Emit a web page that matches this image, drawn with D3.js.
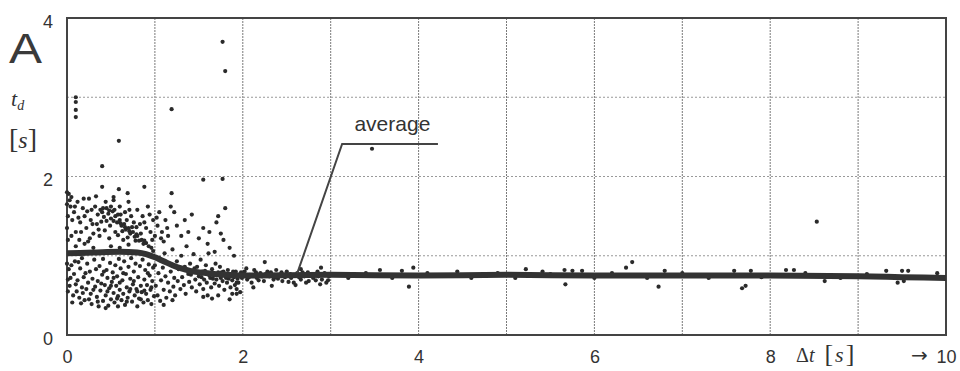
<!DOCTYPE html>
<html>
<head>
<meta charset="utf-8">
<script src="https://cdn.jsdelivr.net/npm/d3@7"></script>
<style>
  body { margin: 0; background: #fff; }
  svg { display: block; }
  .tick text { font-family: "Liberation Sans", Arial, sans-serif; font-size: 18px; fill: #333; }
</style>
</head>
<body>
<div id="chart"></div>
<script>
// x ticks / y ticks as printed
const xTicks = [0, 2, 4, 6, 8, 10];
const yTicks = [0, 2, 4];
const gridX = [1, 2, 3, 4, 5, 6, 7, 8, 9];
const gridY = [1, 2, 3];

// the fitted average curve [dt, td]
const averageLine = [
  [0, 1.03], [0.3, 1.04], [0.6, 1.05], [0.8, 1.04], [0.9, 1.02], [1.0, 0.98],
  [1.1, 0.93], [1.2, 0.88], [1.3, 0.84], [1.4, 0.81], [1.6, 0.78], [1.8, 0.76],
  [2.0, 0.75], [3, 0.76], [4, 0.75], [5, 0.76], [6, 0.75], [7, 0.75],
  [8, 0.75], [9, 0.74], [9.5, 0.73], [10, 0.72]
];

// measured points [dt, td]
const outliers = [
  [0.1, 3.0], [0.1, 2.94], [0.1, 2.84], [0.1, 2.75], [0.59, 2.45], [0.4, 2.13],
  [1.19, 2.85], [1.77, 3.7], [1.8, 3.33], [3.47, 2.35], [8.53, 1.43],
  [0.4, 1.87], [0.59, 1.84], [0.69, 1.79], [0.88, 1.87], [1.19, 1.79],
  [1.55, 1.96], [1.77, 1.97], [0.53, 1.74]
];
const bandPoints = [
  [0.35, 1.52], [0.38, 1.58], [0.4, 1.55], [0.42, 1.49], [0.45, 1.6], [0.47, 1.53],
  [0.5, 1.47], [0.52, 1.56], [0.55, 1.5], [0.57, 1.42], [0.6, 1.45], [0.62, 1.38],
  [0.65, 1.4], [0.67, 1.33], [0.7, 1.35], [0.72, 1.28], [0.75, 1.3], [0.77, 1.24],
  [0.8, 1.25], [0.82, 1.19], [0.85, 1.2], [0.87, 1.15], [0.9, 1.16], [0.93, 1.12],
  [0.96, 1.1], [0.98, 1.06], [0.45, 1.44], [0.5, 1.62], [0.58, 1.52], [0.63, 1.31],
  [0.68, 1.45], [0.74, 1.36], [0.78, 1.19], [0.84, 1.28], [0.41, 1.6], [0.48, 1.57],
  [0.53, 1.44], [0.61, 1.41], [0.66, 1.36], [0.71, 1.31], [0.79, 1.27], [0.88, 1.19]
];
const upperPoints = [
  [0.02, 1.78], [0.03, 1.7], [0.04, 1.62], [0.05, 1.74], [0.08, 1.55], [0.12, 1.68],
  [0.15, 1.42], [0.18, 1.6], [0.2, 1.5], [0.22, 1.35], [0.25, 1.72], [0.27, 1.45],
  [0.3, 1.28], [0.32, 1.62], [0.34, 1.4], [0.37, 1.25], [0.43, 1.32], [0.48, 1.22],
  [0.53, 1.7], [0.55, 1.3], [0.6, 1.62], [0.64, 1.2], [0.66, 1.55], [0.7, 1.68],
  [0.73, 1.5], [0.76, 1.42], [0.8, 1.58], [0.83, 1.4], [0.86, 1.5], [0.9, 1.35],
  [0.92, 1.62], [0.95, 1.3], [0.98, 1.45], [1.0, 1.25], [1.03, 1.38], [1.05, 1.55],
  [1.08, 1.3], [1.1, 1.18], [1.12, 1.45], [1.15, 1.25], [1.18, 1.62], [0.1, 1.3],
  [0.14, 1.2], [0.06, 1.45], [0.24, 1.18], [0.28, 1.58],
  [0.1, 1.12], [0.2, 1.15], [0.3, 1.1], [0.5, 1.12], [0.6, 1.1], [0.7, 1.14],
  [0.05, 1.25], [0.09, 1.62], [0.13, 1.48], [0.16, 1.3], [0.19, 1.72], [0.23, 1.56],
  [0.26, 1.22], [0.29, 1.4], [0.33, 1.75], [0.36, 1.33], [0.39, 1.43], [0.44, 1.68],
  [0.49, 1.38], [0.54, 1.58], [0.58, 1.26], [0.61, 1.52], [0.69, 1.23], [0.71, 1.58],
  [0.79, 1.36], [0.88, 1.42], [0.94, 1.52], [0.97, 1.2], [1.02, 1.48], [1.07, 1.22],
  [1.14, 1.35],
  [0.0, 1.8], [0.0, 1.65], [0.01, 1.5], [0.0, 1.35], [0.01, 1.2], [0.0, 0.9], [0.01, 0.7]
];
const lowerPoints = [
  [0.03, 0.62], [0.05, 0.88], [0.06, 0.41], [0.08, 0.77], [0.09, 0.93], [0.11, 0.55],
  [0.12, 0.69], [0.14, 0.47], [0.15, 0.84], [0.17, 0.6], [0.17, 0.97], [0.19, 0.73],
  [0.2, 0.44], [0.22, 0.58], [0.23, 0.9], [0.24, 0.66], [0.26, 0.8], [0.27, 0.52],
  [0.28, 0.39], [0.29, 0.71], [0.31, 0.95], [0.32, 0.61], [0.33, 0.83], [0.34, 0.48],
  [0.35, 0.68], [0.36, 0.36], [0.37, 0.87], [0.38, 0.56], [0.4, 0.76], [0.41, 0.43],
  [0.41, 0.96], [0.43, 0.63], [0.44, 0.5], [0.45, 0.82], [0.46, 0.72], [0.47, 0.37],
  [0.48, 0.59], [0.49, 0.91], [0.5, 0.45], [0.51, 0.67], [0.52, 0.79], [0.53, 0.53],
  [0.54, 0.41], [0.55, 0.88], [0.56, 0.62], [0.57, 0.74], [0.58, 0.49], [0.59, 0.96],
  [0.6, 0.57], [0.61, 0.84], [0.62, 0.44], [0.63, 0.69], [0.64, 0.52], [0.65, 0.93],
  [0.66, 0.38], [0.67, 0.77], [0.68, 0.6], [0.69, 0.47], [0.7, 0.86], [0.71, 0.55],
  [0.72, 0.71], [0.73, 0.97], [0.74, 0.42], [0.75, 0.64], [0.76, 0.8], [0.77, 0.5],
  [0.78, 0.9], [0.79, 0.58], [0.8, 0.36], [0.81, 0.73], [0.82, 0.46], [0.83, 0.87],
  [0.84, 0.62], [0.85, 0.54], [0.86, 0.95], [0.87, 0.41], [0.88, 0.7], [0.89, 0.82],
  [0.9, 0.52], [0.91, 0.63], [0.92, 0.44], [0.93, 0.89], [0.94, 0.75], [0.95, 0.57],
  [0.96, 0.39], [0.97, 0.68], [0.98, 0.85], [0.99, 0.49],
  [0.04, 0.72], [0.07, 0.5], [0.1, 0.64], [0.13, 0.92], [0.16, 0.4], [0.18, 0.53],
  [0.21, 0.78], [0.25, 0.45], [0.3, 0.57], [0.35, 0.42], [0.39, 0.65], [0.42, 0.8],
  [0.46, 0.55], [0.5, 0.62], [0.53, 0.72], [0.57, 0.46], [0.6, 0.66], [0.64, 0.78],
  [0.68, 0.42], [0.72, 0.58], [0.76, 0.68], [0.8, 0.55], [0.84, 0.45], [0.88, 0.56],
  [0.92, 0.78], [0.96, 0.6], [0.02, 0.83], [0.01, 0.55], [0.44, 0.34], [0.58, 0.36]
];
const midPoints = [
  [1.0, 0.88], [1.01, 0.62], [1.03, 0.5], [1.04, 0.78], [1.05, 0.97], [1.06, 0.43],
  [1.07, 0.69], [1.09, 0.85], [1.1, 0.57], [1.11, 1.03], [1.12, 0.74], [1.13, 0.47],
  [1.15, 0.66], [1.16, 0.9], [1.17, 0.55], [1.18, 0.8], [1.2, 1.08], [1.21, 0.61],
  [1.22, 0.72], [1.23, 0.5], [1.25, 0.93], [1.26, 0.68], [1.27, 0.83], [1.29, 0.58],
  [1.3, 1.0], [1.31, 0.73], [1.33, 0.63], [1.34, 0.86], [1.35, 0.52], [1.36, 1.12],
  [1.38, 0.77], [1.39, 0.67], [1.4, 0.9], [1.42, 0.6], [1.43, 0.81], [1.44, 1.02],
  [1.46, 0.7], [1.47, 0.55], [1.48, 0.86], [1.5, 0.74], [1.51, 0.64], [1.52, 0.95],
  [1.54, 0.8], [1.55, 0.58], [1.56, 0.7], [1.58, 0.88], [1.59, 0.66], [1.6, 0.78],
  [1.61, 1.03], [1.63, 0.72], [1.64, 0.6], [1.65, 0.83], [1.67, 0.75], [1.68, 0.65],
  [1.69, 0.9], [1.7, 0.7], [1.72, 0.79], [1.73, 0.62], [1.74, 0.86], [1.75, 0.72],
  [1.77, 0.68], [1.78, 0.8], [1.79, 0.57], [1.8, 0.74], [1.82, 0.66], [1.83, 0.82],
  [1.84, 0.71], [1.86, 0.6], [1.87, 0.77], [1.88, 0.69], [1.9, 0.73], [1.91, 0.63],
  [1.92, 0.8], [1.93, 0.58], [1.93, 0.52], [1.93, 0.66], [1.95, 0.66], [1.96, 0.76],
  [1.97, 0.54], [1.99, 0.72],
  [1.41, 0.76], [1.45, 0.84], [1.49, 0.79], [1.53, 0.73], [1.57, 0.81], [1.62, 0.75],
  [1.66, 0.71], [1.71, 0.76], [1.76, 0.79], [1.81, 0.72], [1.85, 0.75], [1.89, 0.8],
  [1.94, 0.71], [1.98, 0.79],
  [1.22, 1.55], [1.25, 1.38], [1.3, 1.25], [1.34, 1.45], [1.38, 1.3], [1.42, 1.52],
  [1.5, 1.22], [1.55, 1.35], [1.6, 1.15], [1.7, 1.42], [1.72, 1.5], [1.75, 1.28],
  [1.78, 1.2], [1.8, 1.6], [1.62, 1.3], [1.85, 1.1], [1.68, 1.05], [1.9, 1.0],
  [1.55, 0.48], [1.6, 0.5], [1.65, 0.46], [1.72, 0.5], [1.85, 0.45], [1.88, 0.52],
  [1.1, 0.38], [1.2, 0.44]
];
const tailPoints = [
  [2.02, 0.8], [2.05, 0.7], [2.08, 0.76], [2.1, 0.66], [2.13, 0.82], [2.16, 0.72],
  [2.2, 0.78], [2.24, 0.68], [2.28, 0.8], [2.3, 0.74], [2.35, 0.7], [2.38, 0.82],
  [2.42, 0.76], [2.45, 0.68], [2.5, 0.8], [2.55, 0.72], [2.58, 0.66], [2.62, 0.78],
  [2.66, 0.7], [2.7, 0.74], [2.75, 0.68], [2.8, 0.72], [2.85, 0.8], [2.9, 0.7],
  [2.95, 0.66], [2.98, 0.74], [2.12, 0.6], [2.33, 0.62], [2.6, 0.63], [2.88, 0.64],
  [2.04, 0.84], [2.18, 0.69], [2.26, 0.77], [2.4, 0.71], [2.48, 0.73], [2.52, 0.67],
  [2.68, 0.79], [2.72, 0.66], [2.78, 0.77], [2.83, 0.69], [2.93, 0.78], [2.97, 0.69],
  [2.07, 0.73], [2.15, 0.79], [2.22, 0.74], [2.32, 0.79], [2.37, 0.73], [2.44, 0.79],
  [2.54, 0.77], [2.64, 0.73], [2.74, 0.79], [2.86, 0.74],
  [2.25, 0.92], [3.89, 0.61], [5.67, 0.64], [2.66, 0.83], [2.89, 0.85], [3.56, 0.82],
  [3.81, 0.81], [3.94, 0.85], [4.44, 0.8], [5.22, 0.83], [5.41, 0.8], [5.66, 0.82],
  [5.75, 0.81], [5.86, 0.81], [6.36, 0.85], [6.43, 0.92], [6.73, 0.61], [6.8, 0.81],
  [7.59, 0.81], [7.68, 0.59], [7.72, 0.62], [7.78, 0.81], [8.18, 0.82], [8.27, 0.82],
  [8.62, 0.68], [9.32, 0.81], [9.45, 0.66], [9.5, 0.81], [9.57, 0.81], [9.52, 0.68],
  [3.2, 0.72], [3.4, 0.78], [3.7, 0.72], [4.1, 0.78], [4.6, 0.72], [4.9, 0.78],
  [5.1, 0.72], [5.5, 0.77], [6.0, 0.72], [6.2, 0.78], [6.6, 0.72], [7.0, 0.78],
  [7.3, 0.72], [7.9, 0.73], [8.4, 0.78], [8.8, 0.72], [9.1, 0.77], [9.7, 0.72], [9.9, 0.78]
];

const width = 960, height = 371;
const margin = { top: 18, right: 14, bottom: 36, left: 67 };

const svg = d3.select('#chart').append('svg')
  .attr('width', width)
  .attr('height', height);

const x = d3.scaleLinear().domain([0, 10]).range([margin.left, width - margin.right]);
const y = d3.scaleLinear().domain([0, 4]).range([height - margin.bottom, margin.top]);

const ink = '#333';

// grid
svg.append('g')
  .selectAll('line')
  .data(gridX)
  .join('line')
  .attr('x1', d => x(d)).attr('x2', d => x(d))
  .attr('y1', y(0)).attr('y2', y(4))
  .attr('stroke', '#7a7a7a')
  .attr('stroke-width', 1)
  .attr('stroke-dasharray', '2,1');

svg.append('g')
  .selectAll('line')
  .data(gridY)
  .join('line')
  .attr('x1', x(0)).attr('x2', x(10))
  .attr('y1', d => y(d)).attr('y2', d => y(d))
  .attr('stroke', '#999')
  .attr('stroke-width', 1)
  .attr('stroke-dasharray', '2,2');

// frame
svg.append('rect')
  .attr('x', x(0)).attr('y', y(4))
  .attr('width', x(10) - x(0)).attr('height', y(0) - y(4))
  .attr('fill', 'none')
  .attr('stroke', '#444')
  .attr('stroke-width', 2);

// scatter
const allPoints = [].concat(outliers, bandPoints, upperPoints, lowerPoints, midPoints, tailPoints);
svg.append('g')
  .attr('fill', '#2a2a2a')
  .selectAll('circle')
  .data(allPoints)
  .join('circle')
  .attr('cx', d => x(d[0]))
  .attr('cy', d => y(d[1]))
  .attr('r', 2.1);

// average curve
const line = d3.line()
  .x(d => x(d[0]))
  .y(d => y(d[1]))
  .curve(d3.curveMonotoneX);

svg.append('path')
  .datum(averageLine)
  .attr('d', line)
  .attr('fill', 'none')
  .attr('stroke', '#333')
  .attr('stroke-width', 6);

// annotation "average"
const leader = [[2.62, 0.78], [3.13, 2.41], [4.22, 2.41]];
svg.append('path')
  .datum(leader)
  .attr('d', d3.line().x(d => x(d[0])).y(d => y(d[1])))
  .attr('fill', 'none')
  .attr('stroke', '#444')
  .attr('stroke-width', 2);

svg.append('text')
  .attr('x', x(3.27)).attr('y', y(2.58))
  .attr('font-family', '"Liberation Sans", Arial, sans-serif')
  .attr('font-size', 21)
  .attr('fill', ink)
  .text('average');

// axes
const xAxis = svg.append('g')
  .attr('transform', `translate(0,${y(0)})`)
  .call(d3.axisBottom(x).tickValues(xTicks).tickSize(0).tickPadding(15).tickFormat(d3.format('d')));
xAxis.select('.domain').remove();

const yAxis = svg.append('g')
  .attr('transform', `translate(${x(0)},0)`)
  .call(d3.axisLeft(y).tickValues(yTicks).tickSize(0).tickPadding(14).tickFormat(d3.format('d')));
yAxis.select('.domain').remove();
yAxis.selectAll('.tick text').attr('dy', '0.5em');

// axis titles
const serif = '"Liberation Serif", "DejaVu Serif", serif';
svg.append('text')
  .attr('x', 9).attr('y', 63)
  .attr('font-family', '"Liberation Sans", Arial, sans-serif')
  .attr('font-size', 42)
  .attr('textLength', 33)
  .attr('lengthAdjust', 'spacingAndGlyphs')
  .attr('fill', '#3a3a3a')
  .text('A');

const td = svg.append('text')
  .attr('x', 11).attr('y', 106)
  .attr('font-family', serif)
  .attr('font-style', 'italic')
  .attr('font-size', 22)
  .attr('fill', ink);
td.append('tspan').text('t');
td.append('tspan').attr('font-size', 14).attr('dy', 4).text('d');

const sUnit = svg.append('text')
  .attr('x', 9).attr('y', 148)
  .attr('font-family', serif)
  .attr('font-size', 28)
  .attr('fill', ink);
sUnit.append('tspan').text('[');
sUnit.append('tspan').attr('font-style', 'italic').attr('font-size', 24).text('s');
sUnit.append('tspan').text(']');

const xt = svg.append('text')
  .attr('x', 796).attr('y', 362)
  .attr('font-family', serif)
  .attr('font-size', 20)
  .attr('fill', ink);
xt.append('tspan').text('Δ');
xt.append('tspan').attr('font-style', 'italic').text('t');
xt.append('tspan').attr('dx', 10).attr('font-size', 26).text('[');
xt.append('tspan').attr('dx', 2).attr('font-style', 'italic').attr('font-size', 22).text('s');
xt.append('tspan').attr('dx', 2).attr('font-size', 26).text(']');

svg.append('text')
  .attr('x', 911).attr('y', 362)
  .attr('font-family', '"DejaVu Sans", sans-serif')
  .attr('font-size', 20)
  .attr('fill', ink)
  .text('→');
</script>
</body>
</html>
